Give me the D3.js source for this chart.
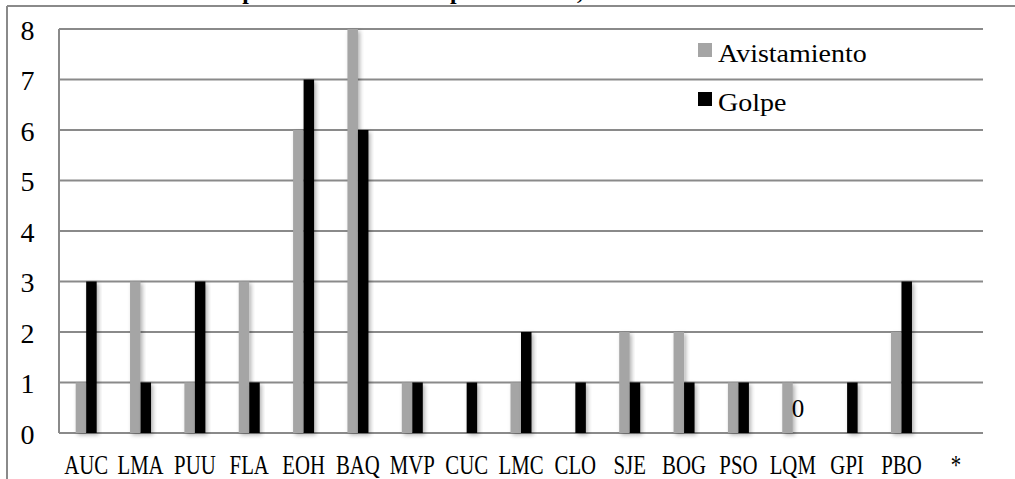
<!DOCTYPE html>
<html><head><meta charset="utf-8">
<script src="https://cdn.jsdelivr.net/npm/d3@7"></script>
<style>html,body{margin:0;padding:0;background:#fff;overflow:hidden}</style>
</head><body>
<script>
const categories = ["AUC","LMA","PUU","FLA","EOH","BAQ","MVP","CUC","LMC","CLO","SJE","BOG","PSO","LQM","GPI","PBO","*"];
const seriesNames = ["Avistamiento","Golpe"];
const avistamiento = [1,3,1,3,6,8,1,0,1,0,2,2,1,1,0,2,null];
const golpe        = [3,1,3,1,7,6,1,1,2,1,1,1,1,0,1,3,null];
const yTicks = [0,1,2,3,4,5,6,7,8];
const labelledZeros = [{cat:"LQM", series:"Golpe"}];
const colors = {"Avistamiento":"#a5a5a5","Golpe":"#000000"};
const titleText = "Número de incidentes por aeródromo de especie animal,";

const W = 1015, H = 479;
const svg = d3.select("body").append("svg").attr("width",W).attr("height",H);
const defs = svg.append("defs");
const f = defs.append("filter").attr("id","sh").attr("x","-50%").attr("y","-10%").attr("width","200%").attr("height","130%");
f.append("feDropShadow").attr("dx",2).attr("dy",2).attr("stdDeviation",2).attr("flood-color","#000").attr("flood-opacity",0.3);

const serif = "'Liberation Serif','Times New Roman',serif";
const grid = "#8a8a8a";

// title (cut off at top in the reference: only descenders visible)
svg.append("text").attr("x",17).attr("y",-1).attr("font-family",serif).attr("font-weight","bold")
  .attr("font-size",23.7).attr("fill","#000").text(titleText);

// outer frame
svg.append("line").attr("x1",7).attr("x2",W).attr("y1",6).attr("y2",6).attr("stroke",grid).attr("stroke-width",2);
svg.append("line").attr("x1",7).attr("x2",7).attr("y1",6).attr("y2",H).attr("stroke",grid).attr("stroke-width",2);

const m = {left:59, right:983, top:29, bottom:433};
const x0 = d3.scaleBand().domain(categories).range([m.left,m.right]).padding(0);
const y = d3.scaleLinear().domain([0,8]).range([m.bottom,m.top]);
const x1 = d3.scaleBand().domain(seriesNames).range([x0.bandwidth()/2-10.5, x0.bandwidth()/2+10.5]);

// gridlines
svg.append("g").selectAll("line").data(yTicks).join("line")
  .attr("x1",m.left).attr("x2",m.right).attr("y1",d=>y(d)).attr("y2",d=>y(d))
  .attr("stroke",grid).attr("stroke-width",2);
svg.append("line").attr("x1",m.left).attr("x2",m.left).attr("y1",m.top).attr("y2",m.bottom).attr("stroke",grid).attr("stroke-width",2);

// y axis labels
const yAxis = svg.append("g").attr("transform",`translate(${m.left},0)`)
  .call(d3.axisLeft(y).tickValues(yTicks).tickSize(0).tickPadding(0).tickFormat(d3.format("d")));
yAxis.select(".domain").remove();
yAxis.selectAll("text").attr("x",27.5-m.left).attr("text-anchor","middle").attr("dy","0.36em")
  .attr("font-family",serif).attr("font-size",28).attr("fill","#000");

// bars
const rows = categories.map((c,i)=>({cat:c, vals:[{s:"Avistamiento",v:avistamiento[i]},{s:"Golpe",v:golpe[i]}]}));
const gb = svg.append("g");
rows.forEach(r=>{
  r.vals.forEach(d=>{
    if(d.v==null || d.v===0) return;
    gb.append("rect").attr("x",x0(r.cat)+x1(d.s)).attr("width",x1.bandwidth())
      .attr("y",y(d.v)).attr("height",y(0)-y(d.v)).attr("fill",colors[d.s]).attr("filter","url(#sh)");
  });
});

// zero labels
labelledZeros.forEach(z=>{
  const i = categories.indexOf(z.cat);
  const v = (z.series==="Golpe"?golpe:avistamiento)[i];
  svg.append("text").attr("x",x0(z.cat)+x1(z.series)+x1.bandwidth()/2).attr("y",y(v)-16)
    .attr("text-anchor","middle").attr("font-family",serif).attr("font-size",25).attr("fill","#000").text(v);
});

// x labels
const xAxis = svg.append("g").attr("transform",`translate(0,${m.bottom})`)
  .call(d3.axisBottom(x0).tickSize(0).tickPadding(0));
xAxis.select(".domain").remove();
xAxis.selectAll(".tick text").attr("y",0).attr("dy",0)
  .attr("transform","translate(0,41) scale(0.77,1)")
  .attr("font-family",serif).attr("font-size",27).attr("fill","#000");

// legend
const lg = svg.append("g");
seriesNames.forEach((s,i)=>{
  const yy = 43 + i*49;
  lg.append("rect").attr("x",698).attr("y",yy).attr("width",14).attr("height",14).attr("fill",colors[s]);
  lg.append("text").attr("transform",`translate(718,${yy+19}) scale(1.12,1)`)
    .attr("font-family",serif).attr("font-size",25).attr("fill","#000").text(s);
});
</script>
</body></html>
